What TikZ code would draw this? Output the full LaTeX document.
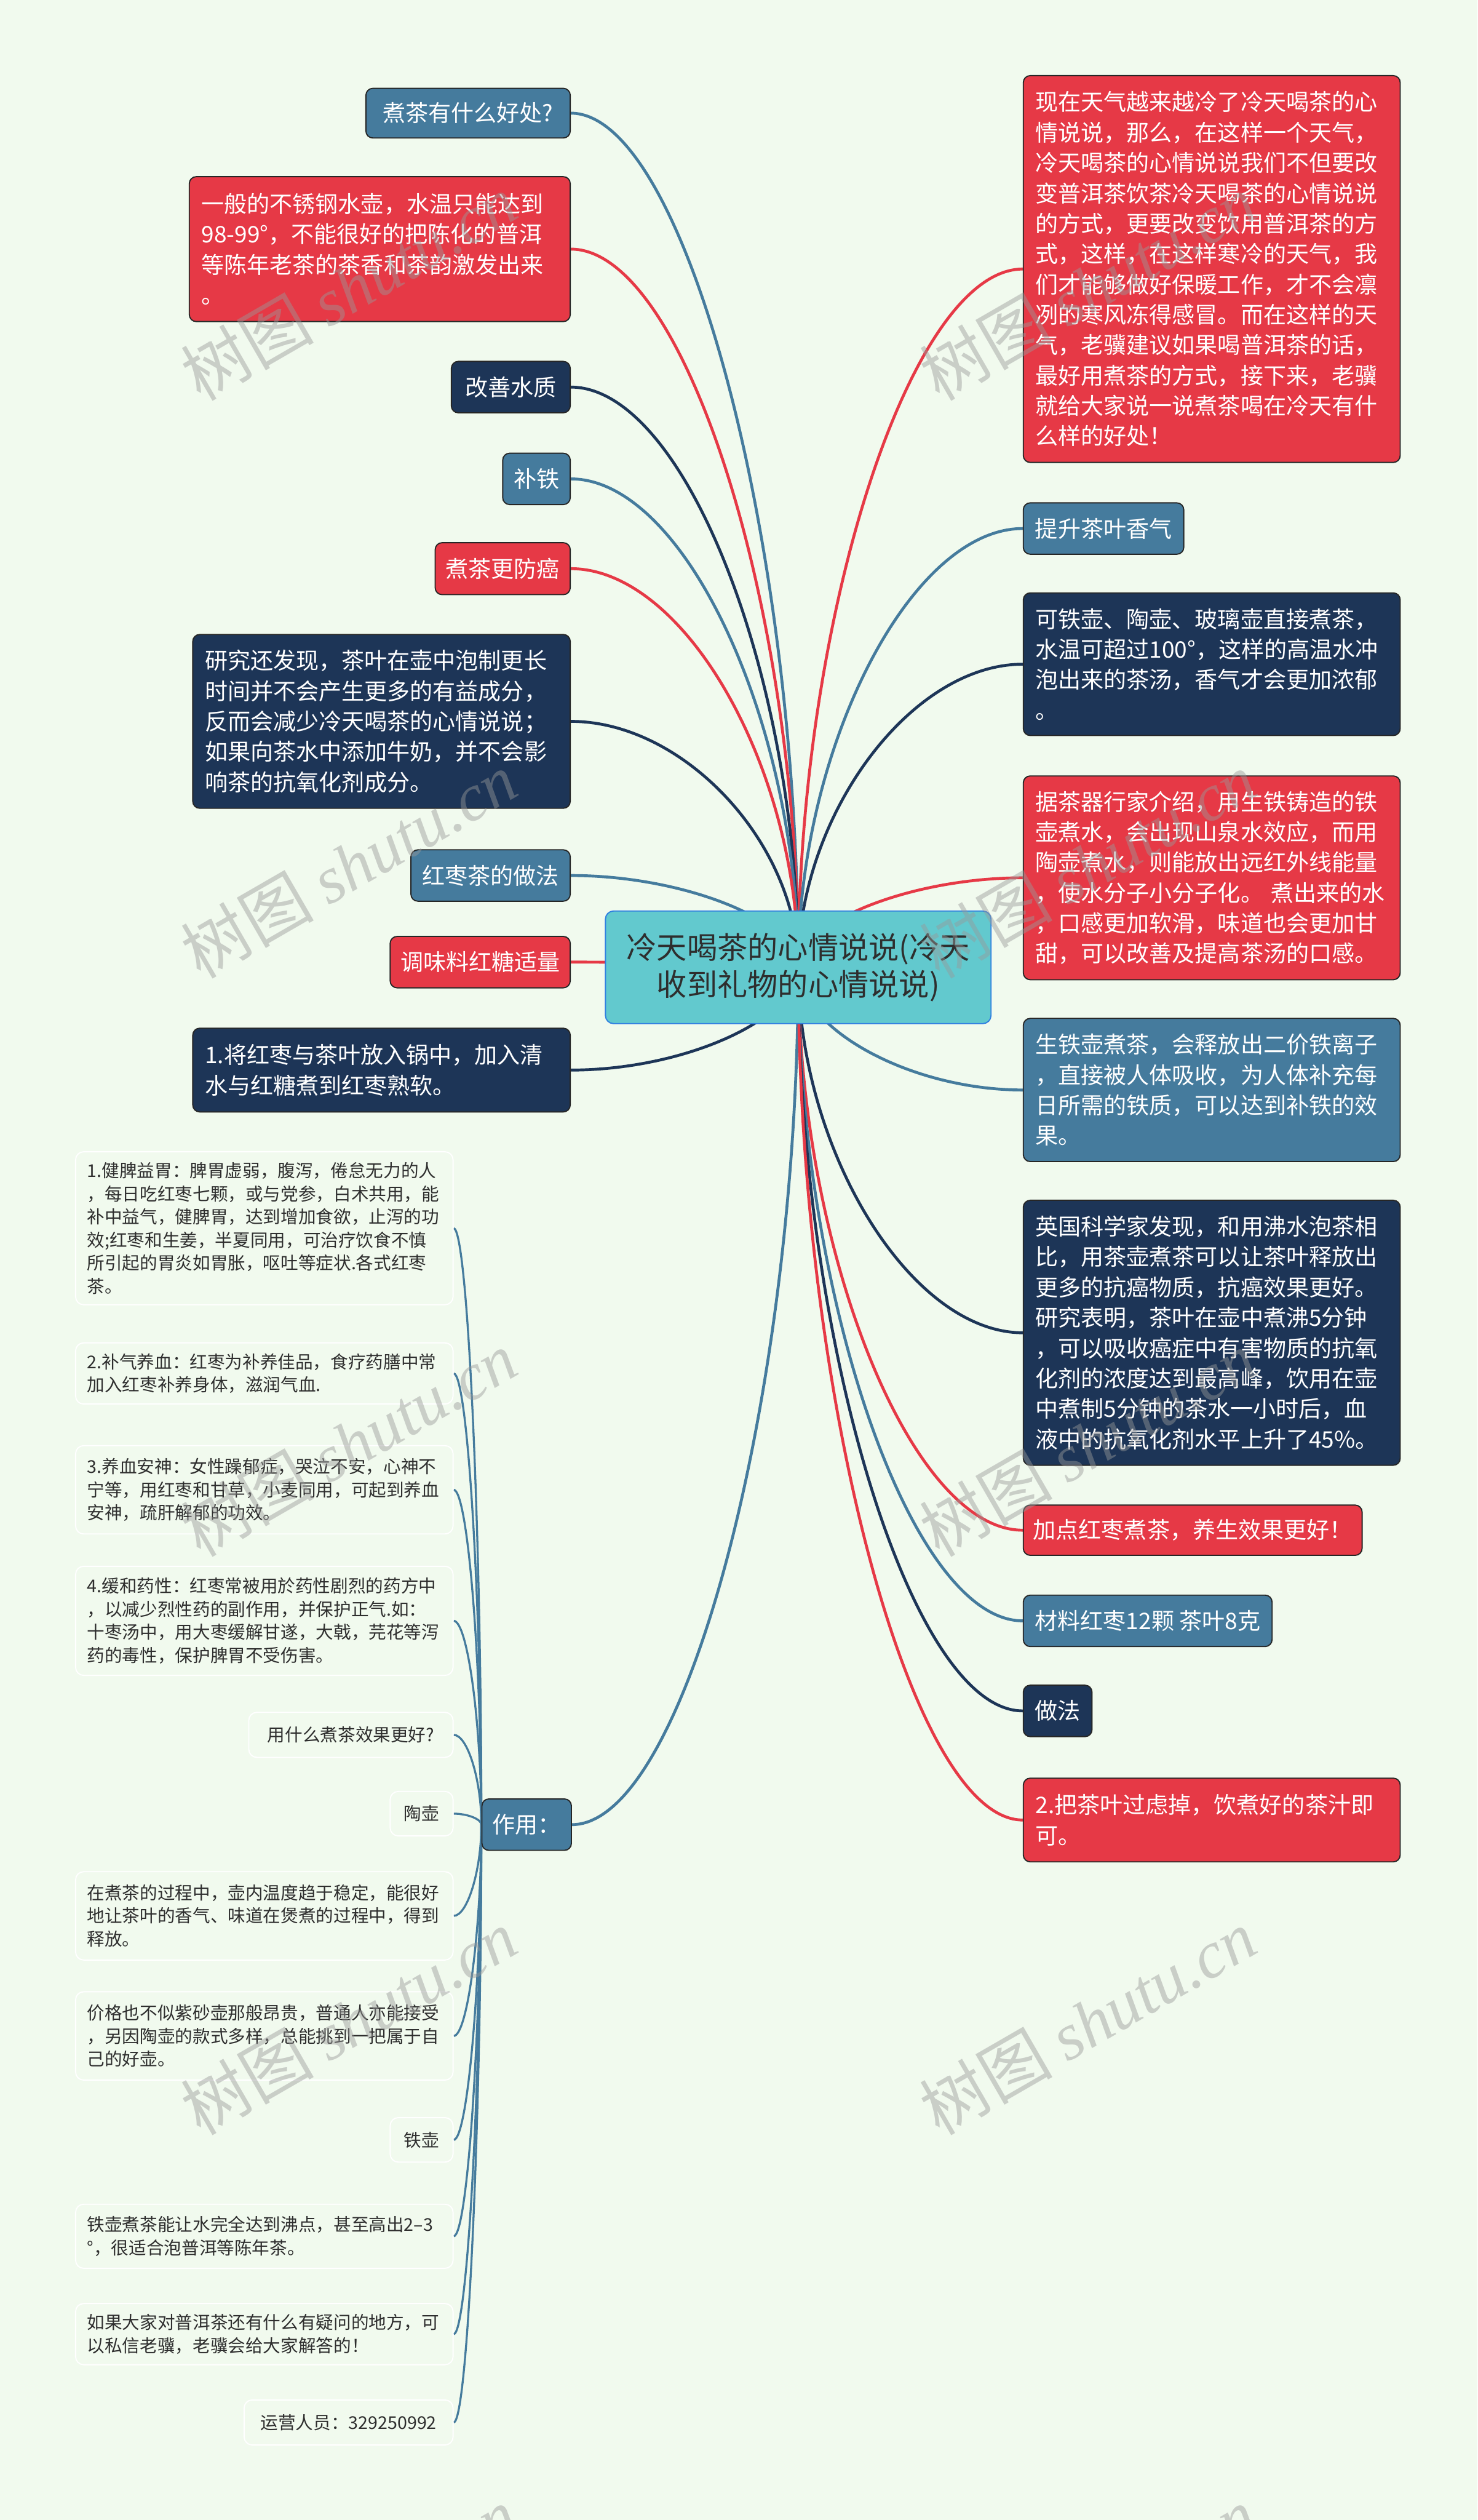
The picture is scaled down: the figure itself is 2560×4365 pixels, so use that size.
\documentclass[tikz,border=0pt]{standalone}
\usepackage{fontspec}
\setmainfont{Noto Sans CJK SC}
\newfontfamily\wmserif{Liberation Serif}
\usetikzlibrary{calc}
\definecolor{cred}{HTML}{E63946}
\definecolor{cblue}{HTML}{457B9D}
\definecolor{cnavy}{HTML}{1D3557}
\definecolor{bgc}{HTML}{F1FAEE}
\definecolor{ctrfill}{HTML}{62C9CE}
\definecolor{ctrborder}{HTML}{2F7FE0}
\definecolor{ctext}{HTML}{2E2E2E}
\definecolor{wmgray}{HTML}{999999}
\pgfdeclarelayer{bg}
\pgfdeclarelayer{fg}
\pgfsetlayers{bg,main,fg}
\tikzset{
  nb/.style={draw=black!85, line width=2pt, rounded corners=12pt, text=white, inner sep=0pt, align=left, font=\fontsize{39.5}{52.6}\selectfont},
  cb/.style={draw=white, line width=2pt, rounded corners=14pt, fill=bgc, text=ctext, inner sep=0pt, align=left, font=\fontsize{30.5}{40}\selectfont},
  mconn/.style={line width=5pt},
  sconn/.style={line width=3.5pt, draw=cblue},
  wm/.style={anchor=base west, rotate=30, text=wmgray, opacity=0.45, inner sep=0pt, font=\fontsize{115}{120}\selectfont}
}
\newcommand\mainconn[2]{%
  \path ($(#1)!0.5!(ctr.center)$) coordinate (mid);
  \draw[mconn, draw=#2] (#1) .. controls (mid |- #1) and (ctr.center |- mid) .. (ctr.center);}
\newcommand\subconn[1]{%
  \path ($(#1)!0.5!(zy.west)$) coordinate (mid);
  \draw[sconn] (#1) .. controls (mid |- #1) and (zy.west |- mid) .. (zy.west);}
\begin{document}
\begin{tikzpicture}[x=1pt,y=-1pt]
\begin{pgfonlayer}{bg}
\fill[bgc] (0,0) rectangle (2560,4365);
\end{pgfonlayer}
\useasboundingbox (0,0) rectangle (2560,4365);

% central
\node[draw=ctrborder, fill=ctrfill, line width=2pt, rounded corners=14pt, minimum width=668pt, minimum height=195pt, inner sep=0pt, align=center, text=ctext, font=\fontsize{52.5}{64}\selectfont] (ctr) at (1383,1675.5) {冷天喝茶的心情说说(冷天\\收到礼物的心情说说)};

% left side
\node[nb, fill=cblue, minimum width=354pt, minimum height=86pt] (L1) at (811,196) {煮茶有什么好处?};
\node[nb, fill=cred, minimum width=660pt, minimum height=251pt, text width=618pt] (L2) at (658,431.5) {一般的不锈钢水壶，水温只能达到\\98-99°，不能很好的把陈化的普洱\\等陈年老茶的茶香和茶韵激发出来\\。};
\node[nb, fill=cnavy, minimum width=206pt, minimum height=89pt] (L3) at (885,670.5) {改善水质};
\node[nb, fill=cblue, minimum width=117pt, minimum height=89pt] (L4) at (929.5,829.5) {补铁};
\node[nb, fill=cred, minimum width=234pt, minimum height=90pt] (L5) at (871,985) {煮茶更防癌};
\node[nb, fill=cnavy, minimum width=654pt, minimum height=301pt, text width=612pt] (L6) at (661,1249.5) {研究还发现，茶叶在壶中泡制更长\\时间并不会产生更多的有益成分，\\反而会减少冷天喝茶的心情说说；\\如果向茶水中添加牛奶，并不会影\\响茶的抗氧化剂成分。};
\node[nb, fill=cblue, minimum width=276pt, minimum height=89pt] (L7) at (850,1516.5) {红枣茶的做法};
\node[nb, fill=cred, minimum width=312pt, minimum height=89pt] (L8) at (832,1666.5) {调味料红糖适量};
\node[nb, fill=cnavy, minimum width=654pt, minimum height=145pt, text width=612pt] (L9) at (661,1853.5) {1.将红枣与茶叶放入锅中，加入清\\水与红糖煮到红枣熟软。};
\node[nb, fill=cblue, minimum width=155pt, minimum height=89pt] (zy) at (912.5,3160.5) {作用：};

% right side
\node[nb, fill=cred, minimum width=653pt, minimum height=670pt, text width=611pt] (R1) at (2099.5,466) {现在天气越来越冷了冷天喝茶的心\\情说说，那么，在这样一个天气，\\冷天喝茶的心情说说我们不但要改\\变普洱茶饮茶冷天喝茶的心情说说\\的方式，更要改变饮用普洱茶的方\\式，这样，在这样寒冷的天气，我\\们才能够做好保暖工作，才不会凛\\冽的寒风冻得感冒。而在这样的天\\气，老骥建议如果喝普洱茶的话，\\最好用煮茶的方式，接下来，老骥\\就给大家说一说煮茶喝在冷天有什\\么样的好处！};
\node[nb, fill=cblue, minimum width=278pt, minimum height=89pt] (R2) at (1912,915.5) {提升茶叶香气};
\node[nb, fill=cnavy, minimum width=653pt, minimum height=247pt, text width=611pt] (R3) at (2099.5,1150.5) {可铁壶、陶壶、玻璃壶直接煮茶，\\水温可超过100°，这样的高温水冲\\泡出来的茶汤，香气才会更加浓郁\\。};
\node[nb, fill=cred, minimum width=653pt, minimum height=353pt, text width=611pt] (R4) at (2099.5,1520.5) {据茶器行家介绍，用生铁铸造的铁\\壶煮水，会出现山泉水效应，而用\\陶壶煮水，则能放出远红外线能量\\，使水分子小分子化。~煮出来的水\\，口感更加软滑，味道也会更加甘\\甜，可以改善及提高茶汤的口感。};
\node[nb, fill=cblue, minimum width=653pt, minimum height=248pt, text width=611pt] (R5) at (2099.5,1888) {生铁壶煮茶，会释放出二价铁离子\\，直接被人体吸收，为人体补充每\\日所需的铁质，可以达到补铁的效\\果。};
\node[nb, fill=cnavy, minimum width=653pt, minimum height=459pt, text width=611pt] (R6) at (2099.5,2308.5) {英国科学家发现，和用沸水泡茶相\\比，用茶壶煮茶可以让茶叶释放出\\更多的抗癌物质，抗癌效果更好。\\研究表明，茶叶在壶中煮沸5分钟\\，可以吸收癌症中有害物质的抗氧\\化剂的浓度达到最高峰，饮用在壶\\中煮制5分钟的茶水一小时后，血\\液中的抗氧化剂水平上升了45\%。};
\node[nb, fill=cred, minimum width=587pt, minimum height=87pt] (R7) at (2066.5,2650.5) {加点红枣煮茶，养生效果更好！};
\node[nb, fill=cblue, minimum width=431pt, minimum height=89pt] (R8) at (1988.5,2807.5) {材料红枣12颗 茶叶8克};
\node[nb, fill=cnavy, minimum width=119pt, minimum height=89pt] (R9) at (1832.5,2963.5) {做法};
\node[nb, fill=cred, minimum width=653pt, minimum height=145pt, text width=611pt] (R10) at (2099.5,3152.5) {2.把茶叶过虑掉，饮煮好的茶汁即\\可。};

% children of zy
\node[cb, minimum width=654pt, minimum height=265pt, text width=614pt] (C1) at (458,2127.5) {1.健脾益胃：脾胃虚弱，腹泻，倦怠无力的人\\，每日吃红枣七颗，或与党参，白术共用，能\\补中益气，健脾胃，达到增加食欲，止泻的功\\效;红枣和生姜，半夏同用，可治疗饮食不慎\\所引起的胃炎如胃胀，呕吐等症状.各式红枣\\茶。};
\node[cb, minimum width=654pt, minimum height=106pt, text width=614pt] (C2) at (458,2379) {2.补气养血：红枣为补养佳品，食疗药膳中常\\加入红枣补养身体，滋润气血.};
\node[cb, minimum width=654pt, minimum height=153pt, text width=614pt] (C3) at (458,2580.5) {3.养血安神：女性躁郁症，哭泣不安，心神不\\宁等，用红枣和甘草，小麦同用，可起到养血\\安神，疏肝解郁的功效。};
\node[cb, minimum width=654pt, minimum height=189pt, text width=614pt] (C4) at (458,2807.5) {4.缓和药性：红枣常被用於药性剧烈的药方中\\，以减少烈性药的副作用，并保护正气.如：\\十枣汤中，用大枣缓解甘遂，大戟，芫花等泻\\药的毒性，保护脾胃不受伤害。};
\node[cb, minimum width=354pt, minimum height=78pt] (C5) at (608,3005) {用什么煮茶效果更好?};
\node[cb, minimum width=109pt, minimum height=77pt] (C6) at (730.5,3141.5) {陶壶};
\node[cb, minimum width=654pt, minimum height=153pt, text width=614pt] (C7) at (458,3318.5) {在煮茶的过程中，壶内温度趋于稳定，能很好\\地让茶叶的香气、味道在煲煮的过程中，得到\\释放。};
\node[cb, minimum width=654pt, minimum height=153pt, text width=614pt] (C8) at (458,3526.5) {价格也不似紫砂壶那般昂贵，普通人亦能接受\\，另因陶壶的款式多样，总能挑到一把属于自\\己的好壶。};
\node[cb, minimum width=109pt, minimum height=77pt] (C9) at (730.5,3706.5) {铁壶};
\node[cb, minimum width=654pt, minimum height=111pt, text width=614pt] (C10) at (458,3873.5) {铁壶煮茶能让水完全达到沸点，甚至高出2–3\\°，很适合泡普洱等陈年茶。};
\node[cb, minimum width=654pt, minimum height=106pt, text width=614pt] (C11) at (458,4043) {如果大家对普洱茶还有什么有疑问的地方，可\\以私信老骥，老骥会给大家解答的！};
\node[cb, minimum width=362pt, minimum height=78pt] (C12) at (604,4196) {运营人员：329250992};

% connectors
\begin{pgfonlayer}{bg}
\mainconn{L1.east}{cblue}
\mainconn{L2.east}{cred}
\mainconn{L3.east}{cnavy}
\mainconn{L4.east}{cblue}
\mainconn{L5.east}{cred}
\mainconn{L6.east}{cnavy}
\mainconn{L7.east}{cblue}
\mainconn{L8.east}{cred}
\mainconn{L9.east}{cnavy}
\mainconn{zy.east}{cblue}
\mainconn{R1.west}{cred}
\mainconn{R2.west}{cblue}
\mainconn{R3.west}{cnavy}
\mainconn{R4.west}{cred}
\mainconn{R5.west}{cblue}
\mainconn{R6.west}{cnavy}
\mainconn{R7.west}{cred}
\mainconn{R8.west}{cblue}
\mainconn{R9.west}{cnavy}
\mainconn{R10.west}{cred}
\subconn{C1.east}
\subconn{C2.east}
\subconn{C3.east}
\subconn{C4.east}
\subconn{C5.east}
\subconn{C6.east}
\subconn{C7.east}
\subconn{C8.east}
\subconn{C9.east}
\subconn{C10.east}
\subconn{C11.east}
\subconn{C12.east}
\end{pgfonlayer}

% watermarks
\begin{pgfonlayer}{fg}
\foreach \wy [count=\i] in {696,1697,2699,3701,4702}{
  \node[wm] (wa\i) at (348,\wy) {树图 {\wmserif\itshape shutu.cn}};
  \node[wm] (wb\i) at (1628,\wy) {树图 {\wmserif\itshape shutu.cn}};
}
\end{pgfonlayer}
\end{tikzpicture}
\end{document}
